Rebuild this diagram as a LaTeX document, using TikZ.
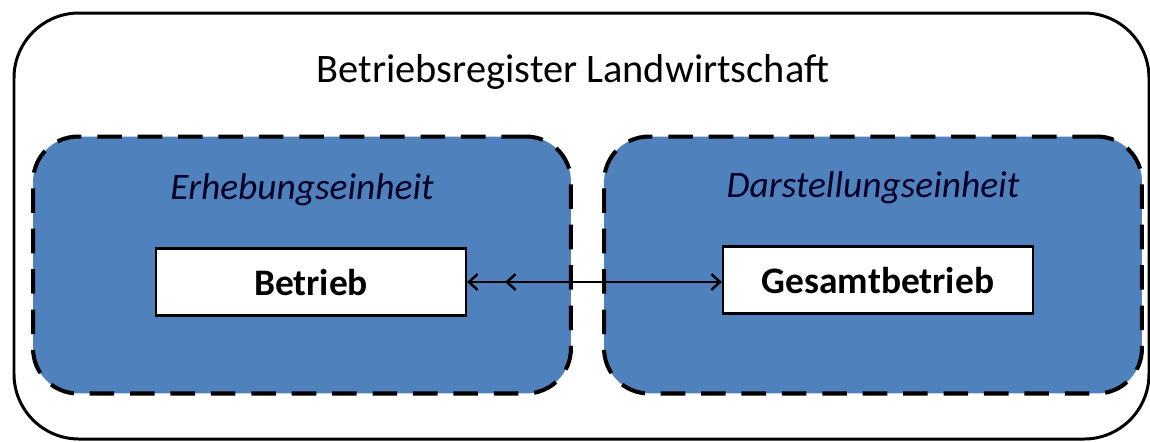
\documentclass[tikz,border=0pt]{standalone}
\usepackage{fontspec}
\setmainfont{Carlito}
\usetikzlibrary{arrows.meta,positioning,decorations.markings}
\definecolor{unitblue}{RGB}{79,129,189}

\begin{document}
\begin{tikzpicture}[x=0.02cm,y=-0.02cm,
        unit/.style={draw=black,fill=unitblue,line width=2.3pt,dash pattern=on 14pt off 9pt,rounded corners=0.9cm,minimum width=10.76cm,minimum height=5.14cm},
        entity/.style={draw=black,fill=white,line width=1.2pt,minimum width=6.2cm,minimum height=1.34cm,font=\bfseries\fontsize{21.3}{25}\selectfont},
        unitlabel/.style={font=\itshape\fontsize{21.3}{25}\selectfont,text=black!85!blue}]
    \useasboundingbox (0,0) rectangle (1150,441);
    \draw[line width=1.7pt,rounded corners=1.3cm] (14,13) rectangle (1149,439);
    \node[font=\fontsize{23}{28}\selectfont] (register) at (573,72) {Betriebsregister Landwirtschaft};
    \node[unit] (erhebung) at (302,265) {};
    \node[unit] (darstellung) at (873,265) {};
    \node[unitlabel] (erhebunglabel) at (302,190) {Erhebungseinheit};
    \node[unitlabel] (darstellunglabel) at (873,188) {Darstellungseinheit};
    \node[entity] (betrieb) at (311,282) {Betrieb};
    \node[entity] (gesamt) at (878,280) {Gesamtbetrieb};
    % Verknuepfung mit doppelter Spitze links
    \draw[line width=1.4pt,{Straight Barb[length=5pt,width=9pt]}-{Straight Barb[length=5pt,width=9pt]},
        postaction={decorate,decoration={markings,mark=at position 0.76cm with {\arrowreversed{Straight Barb[length=5pt,width=9pt]}}}}]
        (betrieb.east) -- (gesamt.west |- betrieb.east);
\end{tikzpicture}
\end{document}
